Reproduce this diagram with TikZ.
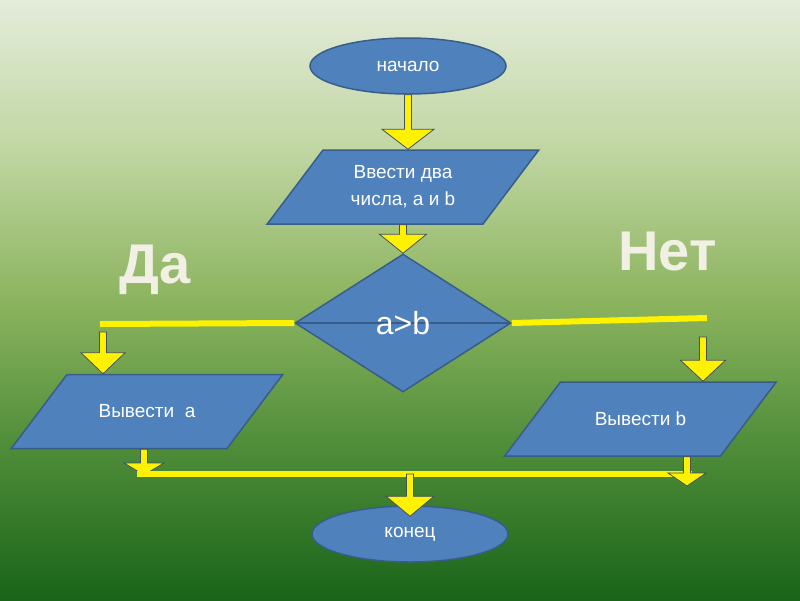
\documentclass[tikz,border=0pt]{standalone}
\usepackage{fontspec}
\setmainfont{Liberation Sans}
\usetikzlibrary{calc,positioning,shapes.geometric}
\definecolor{boxblue}{RGB}{79,129,189}
\definecolor{boxline}{RGB}{56,93,138}
\definecolor{flowline}{RGB}{70,80,95}
\definecolor{answercol}{RGB}{242,240,228}
\definecolor{bgtop}{RGB}{228,236,218}
\definecolor{bghigh}{RGB}{192,214,162}
\definecolor{bgmid}{RGB}{140,180,95}
\definecolor{bglow}{RGB}{78,140,56}
\definecolor{bgbot}{RGB}{25,100,25}
\pgfdeclareverticalshading{bggreen}{100bp}{color(0bp)=(bgbot); color(25bp)=(bgbot); color(37.5bp)=(bglow); color(50bp)=(bgmid); color(62.5bp)=(bghigh); color(75bp)=(bgtop); color(100bp)=(bgtop)}

\begin{document}
\begin{tikzpicture}[
  x=1pt, y=-1pt,
  font=\fontsize{19}{27}\selectfont,
  terminal/.style={ellipse, draw=boxline, fill=boxblue, line width=1.5pt, minimum width=196pt, minimum height=56pt, inner sep=0pt, text=white},
  io/.style={trapezium, trapezium left angle=53, trapezium right angle=127, draw=boxline, fill=boxblue, line width=1.5pt, inner sep=0pt, text=white,
    execute at begin node={\begin{minipage}[c][74pt][c]{160pt}\centering},
    execute at end node={\end{minipage}}},
  test/.style={diamond, draw=boxline, fill=boxblue, line width=1.5pt, minimum width=216pt, minimum height=138pt, inner sep=0pt, text=white, font=\fontsize{32}{36}\selectfont,
    path picture={\draw[boxline, line width=1.5pt] (path picture bounding box.west) -- (path picture bounding box.east);}},
  branch/.style={draw=yellow, line width=6pt},
  flow/.style 2 args={draw=flowline, fill=yellow, line width=0.8pt, to path={
    let \p1=(\tikztostart), \p2=(\tikztotarget) in
    (\x1-3.5pt,\y1) -- (\x1-3.5pt,\y2+#2) -- (\x1-#1,\y2+#2) -- (\x1,\y2) -- (\x1+#1,\y2+#2) -- (\x1+3.5pt,\y2+#2) -- (\x1+3.5pt,\y1) -- cycle}},
  answer/.style={font=\fontsize{56}{60}\selectfont\bfseries, text=answercol, anchor=base}
]
  \useasboundingbox (0,0) rectangle (800,600);
  \fill[shading=bggreen] (0,0) rectangle (800,600);

  \node[terminal] (start) at (408,66) {начало};
  \node[io] (inp) at (403,187) {Ввести два\\числа, а и b};
  \node[test] (cmp) at (403,323) {a>b};
  \node[io] (outa) at (147,411.5) {Вывести~~а};
  \node[io] (outb) at (640.5,419) {Вывести b};
  \node[terminal] (stop) at (410,534) {конец};

  \node[answer] (yes) at (155.5,283) {Да};
  \node[answer] (no) at (667.5,270) {Нет};

  \coordinate (yesend) at (100,324);
  \coordinate (noend) at (707,318);
  \coordinate (yesdrop) at (103,332);
  \coordinate (nodrop) at (703,337);
  \coordinate (mergel) at (137,474);
  \coordinate (merger) at (692,474);
  \coordinate (mergemid) at (410,474);
  \coordinate (ja) at (144,475);
  \coordinate (jb) at (687,486);

  \draw[branch] (cmp.west) -- (yesend);
  \draw[branch] (cmp.east) -- (noend);
  \draw[flow={20pt}{12pt}] (ja |- outa.south) to (ja);
  \draw[branch] (mergel) -- (merger);
  \draw[flow={19pt}{13pt}] (jb |- outb.south) to (jb);

  \draw[flow={26pt}{20pt}] (start.south) to (inp.north);
  \draw[flow={23.5pt}{19pt}] (inp.south) to (cmp.north);
  \draw[flow={22pt}{21pt}] (yesdrop) to (outa.north);
  \draw[flow={22.5pt}{21pt}] (nodrop) to (outb.north);
  \draw[flow={24pt}{20pt}] (mergemid) to ([yshift=-11pt]stop.north);
\end{tikzpicture}
\end{document}
